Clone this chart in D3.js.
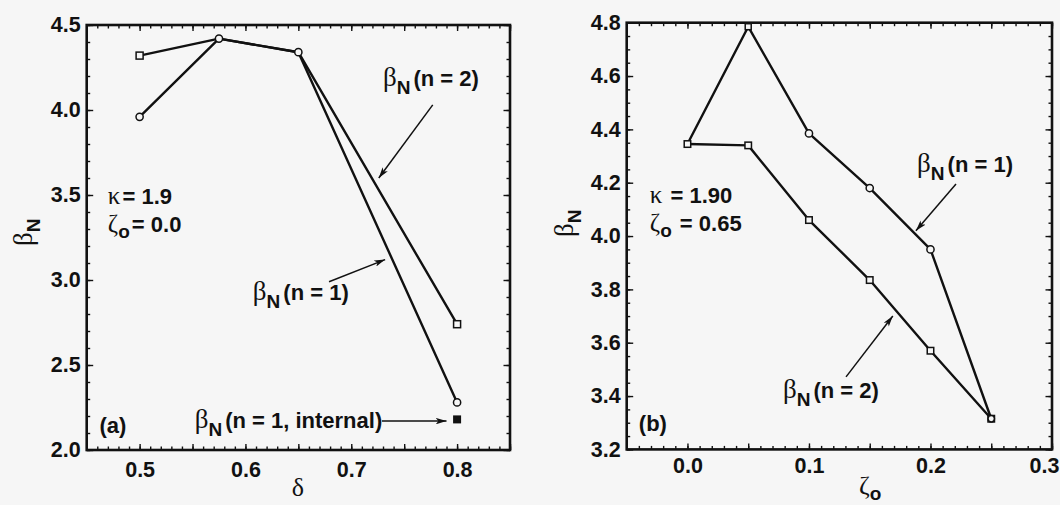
<!DOCTYPE html>
<html><head><meta charset="utf-8">
<script src="https://cdn.jsdelivr.net/npm/d3@7"></script>
<style>
html,body{margin:0;padding:0;background:#f6f6f6;}
svg{display:block;}
</style></head>
<body>
<script>
// ---------- Data: panel (a) ----------
const aDelta      = [0.5, 0.575, 0.65, 0.8];
const aBetaN2     = [4.32, 4.42, 4.34, 2.74];
const aBetaN1     = [3.96, 4.42, 4.34, 2.28];
const aInternalX  = [0.8];
const aInternalY  = [2.18];
const aXTicks     = [0.5, 0.6, 0.7, 0.8];
const aYTicks     = [2.0, 2.5, 3.0, 3.5, 4.0, 4.5];

// ---------- Data: panel (b) ----------
const bZeta       = [0.0, 0.05, 0.1, 0.15, 0.2, 0.25];
const bBetaN1     = [4.345, 4.785, 4.385, 4.18, 3.95, 3.315];
const bBetaN2     = [4.345, 4.34, 4.06, 3.835, 3.57, 3.315];
const bXTicks     = [0.0, 0.1, 0.2, 0.3];
const bYTicks     = [3.2, 3.4, 3.6, 3.8, 4.0, 4.2, 4.4, 4.6, 4.8];

const W = 1060, H = 505;
const SANS = "'Liberation Sans', Arial, Helvetica, sans-serif";
const SERIF = "'Liberation Serif', 'DejaVu Serif', serif";

const svg = d3.select("body").append("svg").attr("width", W).attr("height", H);
svg.append("rect").attr("width", W).attr("height", H).attr("fill", "#f6f6f6");

const defs = svg.append("defs");
defs.append("marker").attr("id", "arr")
  .attr("viewBox", "0 0 10 6").attr("refX", 10).attr("refY", 3)
  .attr("markerWidth", 11).attr("markerHeight", 6.5)
  .attr("markerUnits", "userSpaceOnUse").attr("orient", "auto")
  .append("path").attr("d", "M0,0 L10,3 L0,6 L2.5,3 Z").attr("fill", "#111");

function rangeTicks(lo, hi, step) {
  const n = Math.round((hi - lo) / step);
  const out = [];
  for (let i = 0; i <= n; i++) out.push(+(lo + i * step).toFixed(6));
  return out;
}

function drawFrame(g, x, y, cfg) {
  const [x0, x1] = x.range(), [y0, y1] = y.range();
  const minorX = rangeTicks(cfg.xMinor[0], cfg.xMinor[1], cfg.xMinor[2]);
  const majorX = rangeTicks(cfg.xMajor[0], cfg.xMajor[1], cfg.xMajor[2]);
  const minorY = rangeTicks(cfg.yMinor[0], cfg.yMinor[1], cfg.yMinor[2]);
  const majorY = rangeTicks(cfg.yMajor[0], cfg.yMajor[1], cfg.yMajor[2]);
  const tickStyle = sel => { sel.select(".domain").remove(); sel.selectAll("line").attr("stroke", "#111").attr("stroke-width", 1.4); };
  [[minorX, 3.5], [majorX, 6]].forEach(([vals, len]) => {
    g.append("g").attr("transform", `translate(0,${y0})`)
      .call(d3.axisBottom(x).tickValues(vals).tickSize(-len).tickFormat("")).call(tickStyle);
    g.append("g").attr("transform", `translate(0,${y1})`)
      .call(d3.axisTop(x).tickValues(vals).tickSize(-len).tickFormat("")).call(tickStyle);
  });
  [[minorY, 3.5], [majorY, 6.5]].forEach(([vals, len]) => {
    g.append("g").attr("transform", `translate(${x0},0)`)
      .call(d3.axisLeft(y).tickValues(vals).tickSize(-len).tickFormat("")).call(tickStyle);
    g.append("g").attr("transform", `translate(${x1},0)`)
      .call(d3.axisRight(y).tickValues(vals).tickSize(-len).tickFormat("")).call(tickStyle);
  });
  g.append("rect").attr("x", x0).attr("y", y1).attr("width", x1 - x0).attr("height", y0 - y1)
    .attr("fill", "none").attr("stroke", "#111").attr("stroke-width", 2.6);

  // tick labels
  const xl = g.append("g").attr("transform", `translate(0,${y0})`)
    .call(d3.axisBottom(x).tickValues(cfg.xLabels).tickSize(0).tickPadding(cfg.xPad).tickFormat(d3.format(".1f")));
  const yl = g.append("g").attr("transform", `translate(${x0},0)`)
    .call(d3.axisLeft(y).tickValues(cfg.yLabels).tickSize(0).tickPadding(6).tickFormat(d3.format(".1f")));
  [xl, yl].forEach(a => {
    a.select(".domain").remove();
    a.selectAll("text").attr("font-family", SANS).attr("font-weight", "bold")
      .attr("font-size", 21.5).attr("fill", "#111");
  });
  // keep an edge label inside the page
  xl.selectAll("text").each(function () {
    const b = this.getBBox();
    const tx = x(d3.select(this.parentNode).datum());
    const over = tx + b.x + b.width - (W - 1);
    if (over > 0) d3.select(this).attr("dx", -over);
  });
}

function betaLabel(g, px, py, rest, rotate) {
  const t = g.append("text").attr("fill", "#111");
  if (rotate) t.attr("transform", `translate(${px},${py}) rotate(-90)`);
  else t.attr("x", px).attr("y", py);
  t.append("tspan").attr("font-family", SERIF).attr("font-size", 27).text("β");
  t.append("tspan").attr("font-family", SANS).attr("font-weight", "bold").attr("font-size", 19)
    .attr("dx", 0).attr("dy", 8).text("N");
  if (rest) t.append("tspan").attr("font-family", SANS).attr("font-weight", "bold").attr("font-size", 22)
    .attr("dx", 3).attr("dy", -8).text(rest);
  return t;
}

function paramLabel(g, px, py, kap, zet) {
  const t1 = g.append("text").attr("x", px).attr("y", py).attr("fill", "#111");
  t1.append("tspan").attr("font-family", SERIF).attr("font-size", 25).text("κ");
  t1.append("tspan").attr("font-family", SANS).attr("font-weight", "bold").attr("font-size", 22)
    .attr("dx", 2).text(kap);
  const t2 = g.append("text").attr("x", px).attr("y", py + 28).attr("fill", "#111");
  t2.append("tspan").attr("font-family", SERIF).attr("font-size", 25).text("ζ");
  t2.append("tspan").attr("font-family", SANS).attr("font-weight", "bold").attr("font-size", 19)
    .attr("dy", 6).text("o");
  t2.append("tspan").attr("font-family", SANS).attr("font-weight", "bold").attr("font-size", 22)
    .attr("dx", 2).attr("dy", -6).text(zet);
}

function arrow(g, x1, y1, x2, y2) {
  g.append("line").attr("x1", x1).attr("y1", y1).attr("x2", x2).attr("y2", y2)
    .attr("stroke", "#111").attr("stroke-width", 1.5).attr("marker-end", "url(#arr)");
}

function series(g, x, y, xs, ys) {
  const pts = xs.map((d, i) => [d, ys[i]]);
  g.append("path").datum(pts)
    .attr("d", d3.line().x(d => x(d[0])).y(d => y(d[1])))
    .attr("fill", "none").attr("stroke", "#111").attr("stroke-width", 2.4).attr("stroke-linejoin", "round");
  return pts;
}
function squares(g, x, y, pts, s) {
  g.selectAll(null).data(pts).enter().append("rect")
    .attr("x", d => x(d[0]) - s / 2).attr("y", d => y(d[1]) - s / 2)
    .attr("width", s).attr("height", s)
    .attr("fill", "#f6f6f6").attr("stroke", "#111").attr("stroke-width", 1.5);
}
function circles(g, x, y, pts, r) {
  g.selectAll(null).data(pts).enter().append("circle")
    .attr("cx", d => x(d[0])).attr("cy", d => y(d[1])).attr("r", r)
    .attr("fill", "#f6f6f6").attr("stroke", "#111").attr("stroke-width", 1.5);
}

// ================= Panel (a) =================
{
  const g = svg.append("g");
  const x = d3.scaleLinear().domain([0.45, 0.85]).range([86.7, 510]);
  const y = d3.scaleLinear().domain([2.0, 4.5]).range([450, 25]);
  drawFrame(g, x, y, {
    xMinor: [0.45, 0.85, 0.01], xMajor: [0.45, 0.85, 0.05],
    yMinor: [2.0, 4.5, 0.1], yMajor: [2.0, 4.5, 0.5],
    xLabels: aXTicks, yLabels: aYTicks, xPad: 12
  });
  const p2 = series(g, x, y, aDelta, aBetaN2);
  const p1 = series(g, x, y, aDelta, aBetaN1);
  squares(g, x, y, [p2[0], p2[3]], 7);
  circles(g, x, y, [p1[0], p1[1], p1[2], p1[3]], 3.6);
  g.selectAll(null).data(aInternalX.map((d, i) => [d, aInternalY[i]])).enter().append("rect")
    .attr("x", d => x(d[0]) - 4).attr("y", d => y(d[1]) - 4).attr("width", 8).attr("height", 8).attr("fill", "#111");

  betaLabel(g, x(0.73), y(4.14), "(n = 2)");
  arrow(g, x(0.777), y(4.03), x(0.726), y(3.60));
  betaLabel(g, x(0.607), y(2.885), "(n = 1)");
  arrow(g, x(0.679), y(2.99), x(0.732), y(3.12));
  betaLabel(g, x(0.552), y(2.13), "(n = 1, internal)");
  arrow(g, x(0.729), y(2.17), x(0.79), y(2.17));
  paramLabel(g, x(0.47), y(3.45), "= 1.9", "= 0.0");
  g.append("text").attr("x", x(0.462)).attr("y", y(2.1)).attr("font-family", SANS)
    .attr("font-weight", "bold").attr("font-size", 22).attr("fill", "#111").text("(a)");

  betaLabel(g, 32, 246, "", true);
  g.append("text").attr("x", 298).attr("y", 496).attr("text-anchor", "middle")
    .attr("font-family", SERIF).attr("font-size", 26).attr("fill", "#111").text("δ");
}

// ================= Panel (b) =================
{
  const g = svg.append("g");
  const x = d3.scaleLinear().domain([-0.05, 0.3]).range([626.7, 1052]);
  const y = d3.scaleLinear().domain([3.2, 4.8]).range([449.4, 22.7]);
  drawFrame(g, x, y, {
    xMinor: [-0.05, 0.3, 0.01], xMajor: [-0.05, 0.3, 0.05],
    yMinor: [3.2, 4.8, 0.05], yMajor: [3.2, 4.8, 0.2],
    xLabels: bXTicks, yLabels: bYTicks, xPad: 8
  });
  const p1 = series(g, x, y, bZeta, bBetaN1);
  const p2 = series(g, x, y, bZeta, bBetaN2);
  circles(g, x, y, p1.slice(2, 5), 3.6);
  squares(g, x, y, [p1[1]], 6);
  squares(g, x, y, p2, 6.5);
  circles(g, x, y, [p1[5]], 3.2);

  betaLabel(g, x(0.189), y(4.24), "(n = 1)");
  arrow(g, x(0.221), y(4.195), x(0.188), y(4.02));
  betaLabel(g, x(0.0786), y(3.393), "(n = 2)");
  arrow(g, x(0.1305), y(3.472), x(0.169), y(3.70));
  paramLabel(g, x(-0.031), y(4.124), " = 1.90", " = 0.65");
  g.append("text").attr("x", x(-0.04)).attr("y", y(3.27)).attr("font-family", SANS)
    .attr("font-weight", "bold").attr("font-size", 22).attr("fill", "#111").text("(b)");

  betaLabel(g, 573, 237, "", true);
  const xt = g.append("text").attr("x", 859).attr("y", 494).attr("fill", "#111");
  xt.append("tspan").attr("font-family", SERIF).attr("font-size", 26).text("ζ");
  xt.append("tspan").attr("font-family", SANS).attr("font-weight", "bold").attr("font-size", 19)
    .attr("dy", 6).text("o");
}
</script>
</body></html>
